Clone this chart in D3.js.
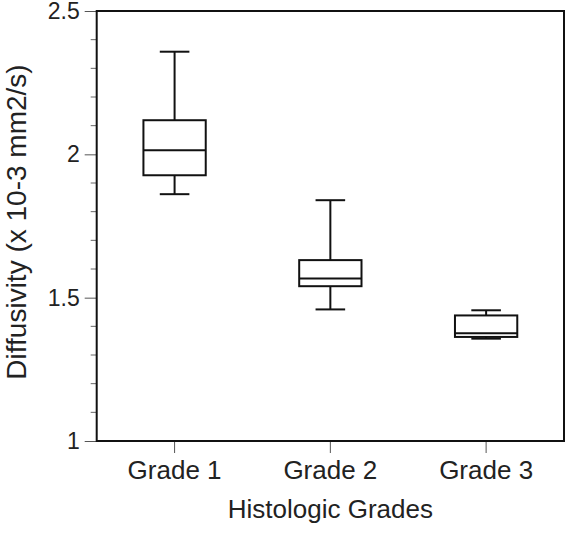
<!DOCTYPE html>
<html>
<head>
<meta charset="utf-8">
<script src="https://cdn.jsdelivr.net/npm/d3@7"></script>
<style>
  body { margin: 0; background: #fff; }
  text { font-family: "Liberation Sans", Arial, sans-serif; fill: #222; }
</style>
</head>
<body>
<div id="boxplot"></div>
<script>
// box plot values
const grades = ["Grade 1", "Grade 2", "Grade 3"];
const whiskerLow = [1.861, 1.459, 1.357];
const q1 = [1.927, 1.540, 1.363];
const median = [2.014, 1.567, 1.376];
const q3 = [2.119, 1.631, 1.438];
const whiskerHigh = [2.358, 1.840, 1.456];
const yTicks = [1, 1.5, 2, 2.5];

const FONT = '"Liberation Sans", Arial, sans-serif';
const width = 574, height = 536;
const margin = { top: 11, right: 10, bottom: 95, left: 96.7 };

const data = grades.map((g, i) => ({
	grade: g, lo: whiskerLow[i], q1: q1[i], med: median[i], q3: q3[i], hi: whiskerHigh[i]
}));

const svg = d3.select('#boxplot')
	.append('svg')
	.attr('width', width)
	.attr('height', height);

const x = d3.scaleBand()
	.domain(grades)
	.range([margin.left, width - margin.right])
	.padding(0);

const y = d3.scaleLinear()
	.domain([1, 2.5])
	.range([height - margin.bottom, margin.top]);

const boxW = x.bandwidth() * 0.4;
const capW = x.bandwidth() * 0.19;

// minor ticks every 0.1
const minor = d3.range(10, 26).map(d => d / 10).filter(d => !yTicks.includes(d));
svg.append('g')
	.selectAll('line')
	.data(minor)
	.enter()
	.append('line')
	.attr('x1', margin.left - 6)
	.attr('x2', margin.left)
	.attr('y1', d => y(d))
	.attr('y2', d => y(d))
	.attr('stroke', '#666')
	.attr('stroke-width', 1);

// y axis with major ticks
const yAxis = svg.append('g')
	.attr('transform', `translate(${margin.left},0)`)
	.call(d3.axisLeft(y).tickValues(yTicks).tickSize(12).tickPadding(5).tickFormat(d => d));
yAxis.select('.domain').remove();
yAxis.selectAll('.tick line').attr('stroke', '#555').attr('stroke-width', 1);
yAxis.selectAll('.tick text')
	.attr('font-size', 23)
	.attr('fill', '#222')
	.style('font-family', FONT);

// x axis
const xAxis = svg.append('g')
	.attr('transform', `translate(0,${y(1)})`)
	.call(d3.axisBottom(x).tickSize(12).tickPadding(7.5));
xAxis.select('.domain').remove();
xAxis.selectAll('.tick line').attr('stroke', '#555').attr('stroke-width', 1);
xAxis.selectAll('.tick text')
	.attr('font-size', 26)
	.attr('fill', '#222')
	.style('font-family', FONT);

// frame
svg.append('rect')
	.attr('x', margin.left)
	.attr('y', margin.top)
	.attr('width', width - margin.right - margin.left)
	.attr('height', y(1) - margin.top)
	.attr('fill', 'none')
	.attr('stroke', '#111')
	.attr('stroke-width', 2);

// boxes
const box = svg.append('g')
	.selectAll('g')
	.data(data)
	.enter()
	.append('g')
	.attr('transform', d => `translate(${x(d.grade) + x.bandwidth() / 2},0)`)
	.attr('stroke', '#111')
	.attr('stroke-width', 2)
	.attr('fill', 'none');

box.append('line') // whisker
	.attr('y1', d => y(d.lo))
	.attr('y2', d => y(d.hi));
box.append('rect')
	.attr('x', -boxW / 2)
	.attr('width', boxW)
	.attr('y', d => y(d.q3))
	.attr('height', d => y(d.q1) - y(d.q3))
	.attr('fill', '#fff');
box.append('line') // median
	.attr('x1', -boxW / 2).attr('x2', boxW / 2)
	.attr('y1', d => y(d.med)).attr('y2', d => y(d.med));
box.append('line') // low cap
	.attr('x1', -capW / 2).attr('x2', capW / 2)
	.attr('y1', d => y(d.lo)).attr('y2', d => y(d.lo));
box.append('line') // high cap
	.attr('x1', -capW / 2).attr('x2', capW / 2)
	.attr('y1', d => y(d.hi)).attr('y2', d => y(d.hi));

// axis titles
svg.append('text')
	.attr('x', (margin.left + width - margin.right) / 2)
	.attr('y', 518)
	.attr('text-anchor', 'middle')
	.attr('font-size', 26)
	.text('Histologic Grades');

svg.append('text')
	.attr('transform', 'translate(26,222) rotate(-90)')
	.attr('text-anchor', 'middle')
	.attr('font-size', 28)
	.text('Diffusivity (x 10-3 mm2/s)');
</script>
</body>
</html>
